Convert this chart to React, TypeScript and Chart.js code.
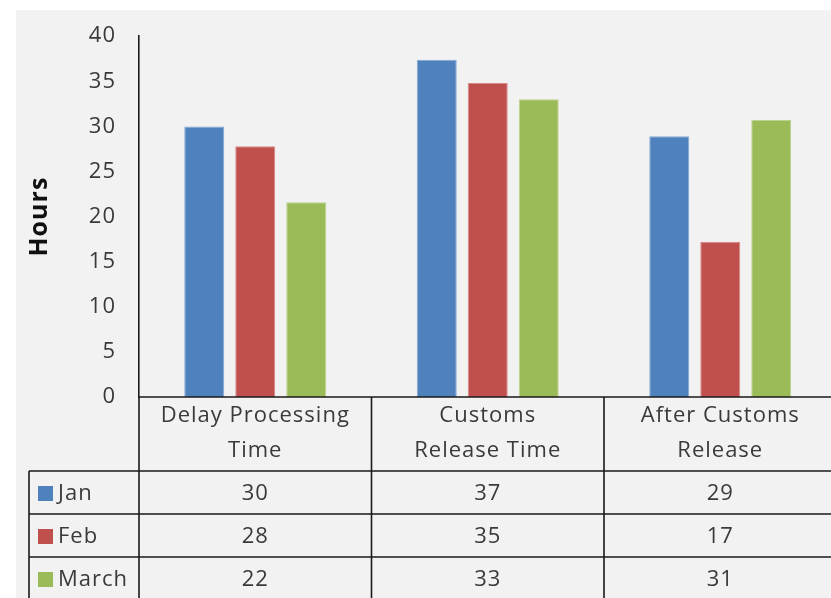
import React, { useEffect, useRef } from "react";
import { Chart, registerables } from "chart.js";

Chart.register(...registerables);

// ---- data ----
const categories: string[][] = [
  ["Delay Processing", "Time"],
  ["Customs", "Release Time"],
  ["After Customs", "Release"],
];
const seriesNames = ["Jan", "Feb", "March"];
const janValues = [30, 37.4, 28.9];
const febValues = [27.8, 34.8, 17.2];
const marchValues = [21.6, 33, 30.7];
const seriesColors = ["#4F81BD", "#C0504D", "#9BBB59"];
const seriesEdgeColors = ["#86A9D6", "#D68987", "#BCD28E"];
const yMin = 0;
const yMax = 40;
const yStep = 5;
const yTitle = "Hours";

// ---- style constants ----
const FONT = "'Open Sans', 'DejaVu Sans', sans-serif";
const TEXT_COLOR = "#3a3a3a";
const CANVAS_W = 850;
const CANVAS_H = 598;

const setSpacing = (ctx: any) => {
  try {
    ctx.letterSpacing = "1px";
  } catch (e) {
    /* ignore */
  }
};

const tablePlugin = {
  id: "dataTable",
  beforeUpdate(chart: any) {
    setSpacing(chart.ctx);
  },
  beforeDraw(chart: any) {
    const { ctx, width, height } = chart;
    setSpacing(ctx);
    ctx.save();
    ctx.fillStyle = "#ffffff";
    ctx.fillRect(0, 0, width, height);
    ctx.fillStyle = "#f2f2f2";
    ctx.fillRect(16, 10, width - 16, height - 10);
    ctx.restore();
  },
  afterDraw(chart: any) {
    const { ctx, chartArea } = chart;
    const xScale = chart.scales.x;
    const labels = chart.data.labels as string[][];
    const n = labels.length;
    const catW = (chartArea.right - chartArea.left) / n;
    const top = chartArea.bottom;
    const headerBottom = top + 74;
    const rowH = 43;
    const tableLeft = 29;
    const rows = chart.data.datasets.length;
    const bottom = headerBottom + rowH * rows;
    const right = chart.width;

    ctx.save();
    setSpacing(ctx);
    ctx.strokeStyle = "#1a1a1a";
    ctx.lineWidth = 1.6;
    ctx.beginPath();
    ctx.moveTo(chartArea.left, top);
    ctx.lineTo(right, top);
    for (let i = 0; i <= n; i++) {
      const x = chartArea.left + i * catW;
      ctx.moveTo(x, top);
      ctx.lineTo(x, bottom);
    }
    for (let r = 0; r <= rows; r++) {
      const y = headerBottom + r * rowH;
      ctx.moveTo(tableLeft, y);
      ctx.lineTo(right, y);
    }
    ctx.moveTo(tableLeft, headerBottom);
    ctx.lineTo(tableLeft, bottom);
    ctx.stroke();

    ctx.fillStyle = TEXT_COLOR;
    ctx.font = `22px ${FONT}`;
    ctx.textAlign = "center";
    ctx.textBaseline = "middle";
    for (let i = 0; i < n; i++) {
      const cx = xScale.getPixelForValue(i);
      labels[i].forEach((ln, k) => {
        ctx.fillText(ln, cx, top + 19 + k * 35);
      });
    }
    chart.data.datasets.forEach((ds: any, r: number) => {
      const cy = headerBottom + r * rowH + rowH / 2 + 1;
      ctx.fillStyle = ds.backgroundColor;
      ctx.fillRect(38, cy - 7.5, 15, 15);
      ctx.fillStyle = TEXT_COLOR;
      ctx.textAlign = "left";
      ctx.fillText(ds.label, 58, cy);
      ctx.textAlign = "center";
      (ds.data as number[]).forEach((v, i) => {
        ctx.fillText(String(Math.round(v)), xScale.getPixelForValue(i), cy);
      });
    });
    ctx.restore();
  },
};

export default function App() {
  const canvasRef = useRef<HTMLCanvasElement | null>(null);

  useEffect(() => {
    const canvas = canvasRef.current;
    if (!canvas) return;
    const seriesValues = [janValues, febValues, marchValues];
    const chart = new Chart(canvas, {
      type: "bar",
      data: {
        labels: categories,
        datasets: seriesNames.map((name, i) => ({
          label: name,
          data: seriesValues[i],
          backgroundColor: seriesColors[i],
          borderColor: seriesEdgeColors[i],
          borderWidth: 1,
          borderSkipped: "start",
          barPercentage: 0.784,
          categoryPercentage: 0.658,
        })),
      },
      options: {
        responsive: false,
        animation: false,
        devicePixelRatio: 1,
        layout: { padding: { left: 0, top: 36, right: 13.5, bottom: 201 } },
        plugins: {
          legend: { display: false },
          tooltip: { enabled: false },
        },
        scales: {
          x: { display: false },
          y: {
            min: yMin,
            max: yMax,
            ticks: {
              stepSize: yStep,
              padding: 23,
              color: TEXT_COLOR,
              font: { family: FONT, size: 22 },
            },
            grid: { display: false, drawTicks: false, tickLength: 0 },
            border: { display: true, color: "#1a1a1a", width: 1.6 },
            title: {
              display: true,
              text: yTitle,
              color: "#111111",
              font: { family: FONT, size: 25, weight: "bold" },
              padding: { top: 24.5, bottom: 0 },
            },
            afterFit: (scale: any) => {
              scale.width = 139;
            },
          },
        },
      },
      plugins: [tablePlugin],
    });
    return () => chart.destroy();
  }, []);

  return (
    <div
      style={{
        position: "fixed",
        left: 0,
        top: 0,
        width: 831,
        height: 598,
        overflow: "hidden",
        background: "#fff",
      }}
    >
      <canvas
        ref={canvasRef}
        width={CANVAS_W}
        height={CANVAS_H}
        style={{ width: CANVAS_W, height: CANVAS_H, display: "block" }}
      />
    </div>
  );
}
